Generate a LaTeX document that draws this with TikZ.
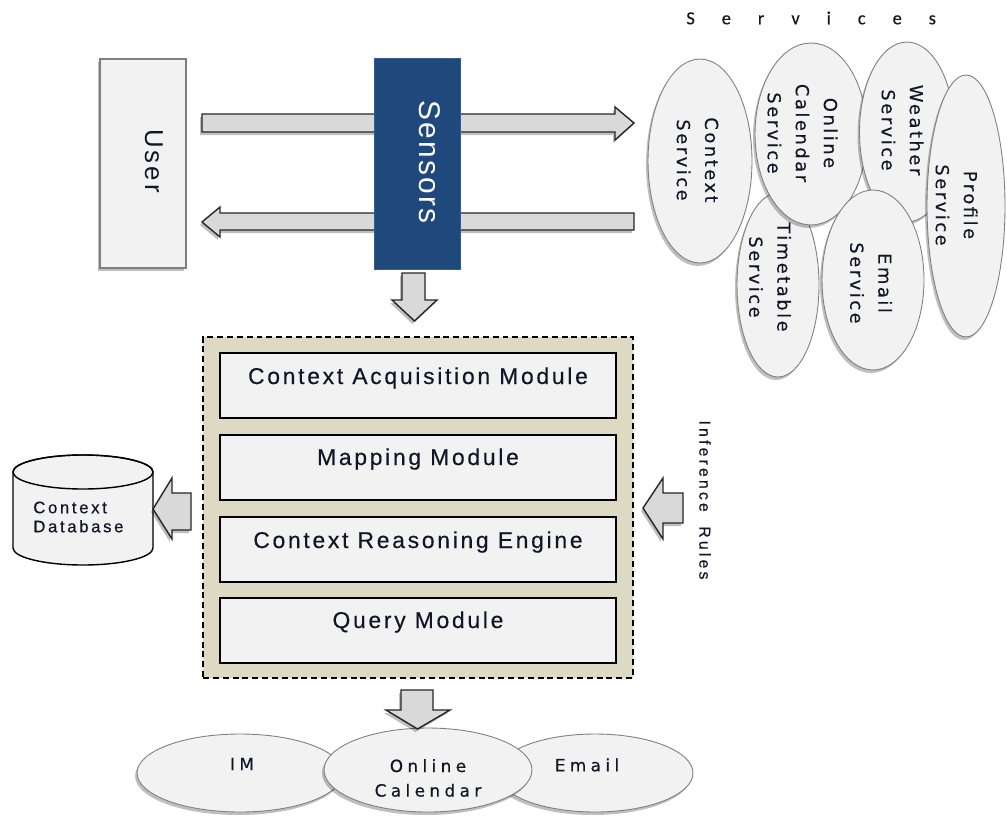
\documentclass[tikz,border=0pt]{standalone}
\usepackage{fontspec}
\setmainfont{Liberation Sans}
\newfontfamily\dejavufam{DejaVu Sans}
\newfontfamily\carlitofam{Carlito}
\usetikzlibrary{shapes.geometric,shadows}
\definecolor{boxfill}{HTML}{F2F2F2}
\definecolor{edgegray}{HTML}{7F7F7F}
\definecolor{sensblue}{HTML}{1F497D}
\definecolor{sensedge}{HTML}{385D8A}
\definecolor{beige}{HTML}{DDD9C3}
\definecolor{arrowfill}{HTML}{D9D9D9}
\definecolor{arrowedge}{HTML}{262626}
\definecolor{txt}{HTML}{141428}
\newcommand\svcfont{\dejavufam\fontsize{10.2pt}{16pt}\selectfont\addfontfeatures{LetterSpace=14,FakeBold=0.3}}
\newcommand\botfont{\dejavufam\fontsize{9.6pt}{14pt}\selectfont\addfontfeatures{LetterSpace=26,FakeBold=0.3}}
\newcommand\modfont{\fontsize{13pt}{15.6pt}\selectfont\addfontfeatures{LetterSpace=12,FakeBold=0.4}}
\tikzset{
  softshadow/.style={drop shadow={shadow xshift=-0.04cm,shadow yshift=-0.06cm,opacity=0.25,fill=black}},
  svc/.style={ellipse, draw=edgegray, fill=boxfill, line width=0.5pt, inner sep=0pt, softshadow},
  svctext/.style={rotate=-90, align=center, inner sep=0pt, text=txt, font=\svcfont},
  bottext/.style={align=center, inner sep=0pt, text=txt, font=\botfont},
  blockarrow/.style={fill=arrowfill, draw=arrowedge, line width=0.8pt, line join=miter, softshadow},
  modbox/.style={rectangle, draw=black, fill=boxfill, line width=0.9pt, minimum width=7.92cm, minimum height=1.3cm, inner sep=0pt},
  modtext/.style={anchor=base, inner sep=0pt, text=txt, font=\modfont},
}
\begin{document}
\begin{tikzpicture}[x=0.02cm,y=-0.02cm]
\useasboundingbox (0,0) rectangle (1007,818);
\fill[white] (0,0) rectangle (1007,818);

% User
\node[rectangle, draw=edgegray, fill=boxfill, line width=0.8pt, minimum width=1.72cm, minimum height=4.18cm, inner sep=0pt, softshadow] (user) at (143,163.5) {};
\node[rotate=-90, inner sep=0pt, text=txt, font={\fontsize{14.7pt}{16pt}\selectfont\addfontfeatures{LetterSpace=12}}] (usertext) at (154,161) {User};

% horizontal arrows
\draw[blockarrow] (202,114) -- (615,114) -- (615,107) -- (634,123) -- (615,140) -- (615,132) -- (202,132) -- cycle;
\draw[blockarrow] (634,213) -- (220,213) -- (220,207) -- (202,222) -- (220,237) -- (220,230) -- (634,230) -- cycle;

% Sensors
\node[rectangle, draw=sensedge, fill=sensblue, line width=0.5pt, minimum width=1.72cm, minimum height=4.22cm, inner sep=0pt] (sensors) at (417,163.5) {};
\node[rotate=-90, inner sep=0pt, text=white, font={\fontsize{17pt}{19pt}\selectfont\addfontfeatures{LetterSpace=7}}] (senstext) at (430,162) {Sensors};

% arrow down from sensors
\draw[blockarrow] (402,273) -- (425,273) -- (425,300) -- (437,300) -- (414.5,321) -- (392,300) -- (402,300) -- cycle;

% Services
\node[svc, minimum width=1.64cm, minimum height=3.68cm] (timetable) at (778,285) {};
\node[svctext] (timetabletext) at (770,277) {Timetable\\Service};
\node[svc, minimum width=2.24cm, minimum height=3.64cm] (onlinecal) at (811,134) {};
\node[svctext] (onlinecaltext) at (802.5,133) {Online\\Calendar\\Service};
\node[svc, minimum width=1.9cm, minimum height=3.6cm] (weather) at (907,132) {};
\node[svctext] (weathertext) at (902.5,130) {Weather\\Service};
\node[svc, minimum width=2.08cm, minimum height=4.08cm] (context) at (700,161) {};
\node[svctext] (contexttext) at (697.5,160) {Context\\Service};
\node[svc, minimum width=1.56cm, minimum height=5.24cm] (profile) at (966,206) {};
\node[svctext] (profiletext) at (956.5,205) {Profile\\Service};
\node[svc, minimum width=2.04cm, minimum height=3.6cm] (emailsvc) at (873,280) {};
\node[svctext] (emailsvctext) at (871,283) {Email\\Service};

\node[anchor=west, inner sep=0pt, text=txt, font={\carlitofam\fontsize{10.5pt}{12pt}\selectfont\addfontfeatures{LetterSpace=146,FakeBold=0.4}}] (servicestitle) at (686,18) {Services};

% container
\node[rectangle, draw=black, dashed, dash pattern=on 3.4pt off 2.2pt, fill=beige, line width=0.8pt, minimum width=8.6cm, minimum height=6.82cm, inner sep=0pt] (container) at (418,507.5) {};
\node[modbox] (cam) at (418,385.5) {};
\node[modtext] (camtext) at (418,384) {Context Acquisition Module};
\node[modbox] (map) at (418,467.5) {};
\node[modtext] (maptext) at (418,465) {Mapping Module};
\node[modbox] (cre) at (418,549.5) {};
\node[modtext] (cretext) at (418,548) {Context Reasoning Engine};
\node[modbox] (query) at (418,630.5) {};
\node[modtext] (querytext) at (418,628) {Query Module};

% database
\draw[black, fill=boxfill, line width=0.8pt] (13,472) -- (13,548) arc[start angle=180, end angle=0, x radius=70, y radius=17] -- (153,472) arc[start angle=0, end angle=-180, x radius=70, y radius=17] -- cycle;
\draw[black, line width=0.8pt] (83,472) ellipse[x radius=70, y radius=17];
\node[anchor=west, align=left, inner sep=0pt, text=txt, font={\fontsize{9.5pt}{10.8pt}\selectfont\addfontfeatures{LetterSpace=16,FakeBold=0.5}}] (dbtext) at (33,517) {Context\\Database};
\draw[blockarrow] (191,493) -- (191,530) -- (172,530) -- (172,539) -- (153,509) -- (172,478) -- (172,493) -- cycle;

% inference rules
\draw[blockarrow] (683,493) -- (683,523) -- (663,523) -- (663,539) -- (643,508) -- (663,478) -- (663,493) -- cycle;
\node[rotate=-90, inner sep=0pt, text=txt, font={\fontsize{9pt}{11pt}\selectfont\addfontfeatures{LetterSpace=20,FakeBold=0.4}}] (inftext) at (705,500) {Inference\hspace{4pt} Rules};

% bottom ellipses
\node[svc, minimum width=4.12cm, minimum height=1.56cm] (im) at (240,773) {};
\node[bottext] (imtext) at (242,764) {IM};
\node[svc, minimum width=3.92cm, minimum height=1.56cm] (email) at (595,773) {};
\node[bottext] (emailtext) at (587,765) {Email};
\node[svc, minimum width=4.16cm, minimum height=1.68cm] (ocal) at (428,770) {};
\node[bottext] (ocaltext) at (428,778) {Online\\Calendar};

\draw[blockarrow] (401,690) -- (433,690) -- (433,710) -- (450,710) -- (417.5,729) -- (386,710) -- (401,710) -- cycle;
\end{tikzpicture}
\end{document}
